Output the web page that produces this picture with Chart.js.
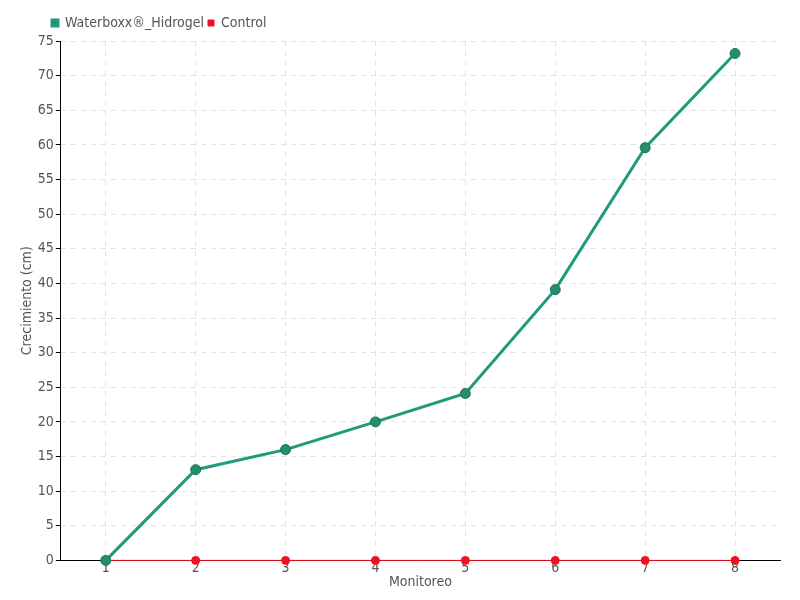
<!DOCTYPE html>
<html>
<head>
    <title>Crecimiento</title>
    <script src="https://cdn.jsdelivr.net/npm/chart.js"></script>
    <style>
        body { margin: 0; background: #fff; }
        #wrap { width: 800px; height: 600px; }
    </style>
</head>
<body>
    <div id="wrap"><canvas id="myChart"></canvas></div>

    <script>
        // Data
        var monitoreo = ['1', '2', '3', '4', '5', '6', '7', '8'];
        var waterboxx = [0, 13.1, 16, 20, 24.1, 39.1, 59.6, 73.2];
        var control = [0, 0, 0, 0, 0, 0, 0, 0];

        Chart.defaults.font.family = "'DejaVu Sans Condensed', 'Liberation Sans Narrow', 'Liberation Sans', sans-serif";
        Chart.defaults.color = '#555';

        // nudge the legend to where it sits in the original
        var shiftLegend = {
            id: 'shiftLegend',
            afterLayout: function (chart) {
                var lg = chart.legend;
                if (lg && !lg._shifted) {
                    var orig = lg.draw;
                    lg.draw = function () {
                        chart.ctx.save();
                        chart.ctx.translate(29, -1);
                        orig.apply(this, arguments);
                        chart.ctx.restore();
                    };
                    lg._shifted = true;
                }
            }
        };

        var ctx = document.getElementById('myChart').getContext('2d');
        var myChart = new Chart(ctx, {
            type: 'line',
            data: {
                labels: monitoreo,
                datasets: [{
                    label: 'Waterboxx®_Hidrogel',
                    data: waterboxx,
                    borderColor: '#1e9a7c',
                    backgroundColor: '#1f8f6e',
                    pointBorderColor: '#23705a',
                    pointBackgroundColor: '#1f8f6e',
                    borderWidth: 3,
                    pointRadius: 5,
                    pointBorderWidth: 1,
                    clip: false
                }, {
                    label: 'Control',
                    data: control,
                    borderColor: '#ee1122',
                    backgroundColor: '#ee1122',
                    pointBackgroundColor: '#ee1122',
                    pointBorderColor: '#ee1122',
                    borderWidth: 1,
                    pointRadius: 4,
                    clip: false
                }]
            },
            options: {
                responsive: true,
                maintainAspectRatio: false,
                animation: false,
                layout: { padding: { left: 19, right: 20, top: 13, bottom: 9 } },
                plugins: {
                    legend: {
                        align: 'start',
                        labels: {
                            boxWidth: 6,
                            boxHeight: 6,
                            padding: 4,
                            font: { size: 14 }
                        }
                    },
                    tooltip: { enabled: false }
                },
                scales: {
                    x: {
                        offset: true,
                        grid: {
                            offset: false,
                            color: '#e2e2e2',
                            tickColor: '#e2e2e2',
                            tickLength: 0
                        },
                        border: { color: '#000', dash: [5, 5] },
                        ticks: { font: { size: 14 }, padding: 0 },
                        title: { display: true, text: 'Monitoreo', font: { size: 14 }, padding: { top: -3, bottom: 0 } }
                    },
                    y: {
                        min: 0,
                        max: 75,
                        ticks: { stepSize: 5, font: { size: 14 }, padding: 2 },
                        grid: {
                            color: '#e2e2e2',
                            tickColor: '#000',
                            tickLength: 5
                        },
                        border: { color: '#000', dash: [5, 5] },
                        title: { display: true, text: 'Crecimiento (cm)', font: { size: 14 }, padding: 0 }
                    }
                }
            },
            plugins: [shiftLegend]
        });
    </script>
</body>
</html>
